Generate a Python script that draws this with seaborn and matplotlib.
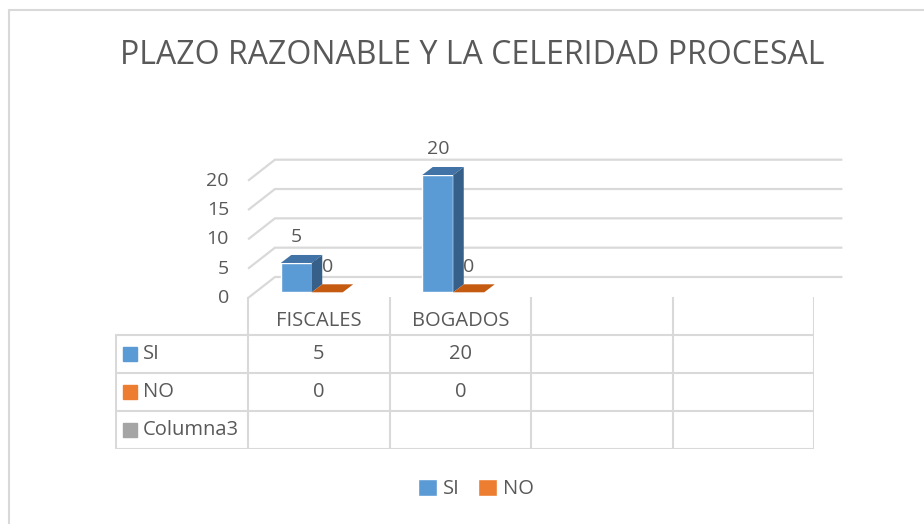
import pandas as pd
import matplotlib.pyplot as plt
import seaborn as sns
from matplotlib.lines import Line2D
from matplotlib.patches import Polygon

# Data
categorias = ['FISCALES', 'BOGADOS']
n_columnas = 4  # the table has two more (empty) columns
serie_si = [5, 20]
serie_no = [0, 0]
series = ['SI', 'NO', 'Columna3']
columna3 = ['', '']
y_ticks = [0, 5, 10, 15, 20]
titulo = 'PLAZO RAZONABLE Y LA CELERIDAD PROCESAL'

colores = {'SI': '#5b9bd5', 'NO': '#ed7d31', 'Columna3': '#a5a5a5'}
top_col = {'SI': '#4273a6', 'NO': '#c55a11'}
side_col = {'SI': '#365f8a', 'NO': '#a34a0e'}
texto = '#595959'
linea = '#d9d9d9'

sns.set_style('white')
plt.rcParams['font.family'] = ['Open Sans', 'DejaVu Sans']

df = pd.DataFrame({
    'categoria': categorias * 2,
    'valor': serie_si + serie_no,
    'serie': ['SI'] * len(categorias) + ['NO'] * len(categorias),
})

W, H = 924, 524
fig = plt.figure(figsize=(W / 100, H / 100), dpi=100)

# main axes = plane of the bar front faces
ax = fig.add_axes([241 / W, (H - 292.3) / H, 566 / W, 117.3 / H])
sns.barplot(data=df, x='categoria', y='valor', hue='serie', order=categorias,
            hue_order=['SI', 'NO'], palette=[colores['SI'], colores['NO']],
            width=0.438, saturation=1, ax=ax, zorder=3)
leg = ax.get_legend()
handles = leg.legend_handles
labels = [t.get_text() for t in leg.get_texts()]
leg.remove()
ax.set_xlim(-0.5, n_columnas - 0.5)
ax.set_ylim(0, 20)
ax.axis('off')

# 3d geometry in data units
bar_dx, bar_dy = 0.0742, 1.364       # bar depth
wall_x0, wall_y0 = -0.45, -0.97      # front-left corner of the floor
wall_dx, wall_dy = 0.19, 3.58        # full depth of the floor
wall_x1 = 3.75                       # right end of the back wall

for v in y_ticks:
    xs = [wall_x0, wall_x0 + wall_dx, wall_x1]
    ys = [wall_y0 + v, wall_y0 + wall_dy + v, wall_y0 + wall_dy + v]
    ax.plot(xs, ys, color=linea, lw=1.6, clip_on=False, zorder=1, solid_capstyle='butt')
    ax.text(-0.585, wall_y0 + v, str(v), ha='right', va='center', fontsize=14,
            color=texto, clip_on=False)

bars = [p for p in ax.patches]
for p in bars:
    x0, w, h = p.get_x(), p.get_width(), p.get_height()
    key = 'SI' if p.get_facecolor()[0] < 0.6 else 'NO'
    top = Polygon([(x0, h), (x0 + w, h), (x0 + w + bar_dx, h + bar_dy), (x0 + bar_dx, h + bar_dy)],
                  closed=True, facecolor=top_col[key], edgecolor='none', clip_on=False, zorder=3)
    ax.add_patch(top)
    if h > 0:
        side = Polygon([(x0 + w, 0), (x0 + w + bar_dx, bar_dy), (x0 + w + bar_dx, h + bar_dy), (x0 + w, h)],
                       closed=True, facecolor=side_col[key], edgecolor='none', clip_on=False, zorder=3)
        ax.add_patch(side)
    p.set_clip_on(False)
    ax.annotate(f'{h:g}', (x0 + w / 2, h), xytext=(0, 25.5), textcoords='offset pixels',
                ha='center', va='center', fontsize=14, color=texto, zorder=2,
                annotation_clip=False)

# data table
tx = fig.add_axes([115 / W, (H - 449) / H, 699 / W, 152 / H])
x_min = -1.44
tx.set_xlim(x_min, n_columnas - 0.5)
tx.set_ylim(4, 0)
tx.axis('off')
col_edges = [i - 0.5 for i in range(n_columnas + 1)]
tx.vlines(col_edges, 0, 4, color=linea, lw=1.5)
tx.vlines([x_min + 0.004], 1, 4, color=linea, lw=1.5)
tx.hlines([1, 2, 3, 4], x_min, n_columnas - 0.5, color=linea, lw=1.5)

for i, c in enumerate(categorias):
    tx.text(i, 0.63, c, ha='center', va='center', fontsize=14.5, color=texto)

filas = {'SI': serie_si, 'NO': serie_no, 'Columna3': columna3}
for r, s in enumerate(series):
    yc = r + 1.5
    tx.plot([x_min + 0.106], [yc], marker='s', ms=10, color=colores[s], lw=0)
    tx.text(x_min + 0.195, yc, s, ha='left', va='center', fontsize=14.5, color=texto)
    for i, v in enumerate(filas[s]):
        tx.text(i, yc, str(v), ha='center', va='center', fontsize=14.5, color=texto)

fig.text(472 / W, 1 - 55 / H, titulo, ha='center', va='center', fontsize=23, color=texto)

fig.legend(handles, labels, loc='center', bbox_to_anchor=(476 / W, 1 - 489 / H),
           ncol=2, frameon=False, fontsize=14.5, handlelength=0.95, handleheight=0.95,
           handletextpad=0.3, columnspacing=0.9, labelcolor=texto)

# chart area border (cut at right and bottom)
fig.add_artist(Line2D([8.5 / W, 8.5 / W], [0, 1 - 10 / H], color=linea, lw=1.5,
                      transform=fig.transFigure))
fig.add_artist(Line2D([8.5 / W, 1], [1 - 10 / H, 1 - 10 / H], color=linea, lw=1.5,
                      transform=fig.transFigure))

fig.savefig('out.png', dpi=100, facecolor='white')
